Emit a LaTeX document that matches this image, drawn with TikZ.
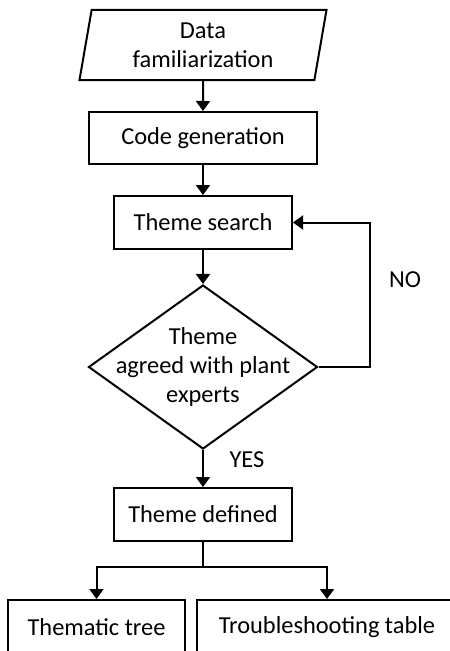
\documentclass[tikz,border=0pt]{standalone}
\usepackage{fontspec}
\setmainfont{Carlito}
\usetikzlibrary{arrows.meta}
\usetikzlibrary{shapes.geometric}
\tikzset{
  box/.style={draw, line width=1bp, inner sep=0pt, minimum height=26.5bp},
  flow/.style={line width=1bp, -{Triangle[width=7bp,length=5bp]}},
}

\begin{document}
\begin{tikzpicture}[x=0.5bp,y=-0.5bp,font=\fontsize{12.2bp}{14.7bp}\selectfont]
\useasboundingbox (0,0) rectangle (450,651);
\clip (0,0) rectangle (450,651);
\node[draw, line width=1bp, trapezium, trapezium left angle=75, trapezium right angle=105,
  trapezium stretches body, minimum width=123.5bp, minimum height=35bp,
  inner sep=0pt, align=center] (data) at (203,45) {Data\\familiarization};
\node[box, minimum width=113.5bp, minimum height=26bp] (code) at (203,138) {Code generation};
\node[box, minimum width=89bp] (search) at (203,222.5) {Theme search};
\node[draw, diamond, line width=1bp, minimum width=114.5bp, minimum height=82bp, inner sep=0pt,
  label={[align=center]center:Theme\\agreed with plant\\experts}] (agree) at (203,367) {};
\node[box, minimum width=88.5bp] (defined) at (203,514.5) {Theme defined};
\node[box, minimum width=88.5bp, minimum height=27bp] (tree) at (96.5,627) {Thematic tree};
\node[box, minimum width=130bp, minimum height=27bp] (table) at (327,627) {Troubleshooting table};
\coordinate (back) at (370,367);
\coordinate (split) at (203,567);
% connectors
\draw[flow] (data) -- (code);
\draw[flow] (code) -- (search);
\draw[flow] (search) -- (agree);
\draw[flow] (agree.east) -- (back) |- (search.east);
\node (no) at (405,280) {NO};
\draw[flow] (agree) -- (defined);
\node (yes) at (247,460) {YES};
\draw[line width=1bp] (defined) -- (split);
\draw[flow] (split) -| (tree);
\draw[flow] (split) -| (table);
\end{tikzpicture}
\end{document}
